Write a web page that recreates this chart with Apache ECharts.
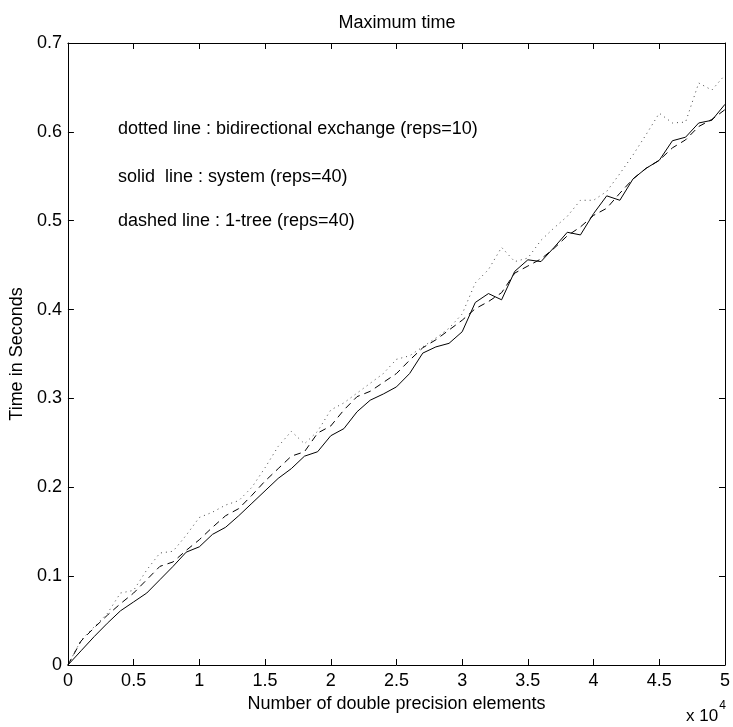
<!DOCTYPE html>
<html>
<head>
<meta charset="utf-8">
<title>Maximum time</title>
<script src="https://cdn.jsdelivr.net/npm/echarts@6/dist/echarts.min.js"></script>
<style>
  html, body { margin: 0; padding: 0; background: #fff; }
  #chart { width: 733px; height: 727px; }
</style>
</head>
<body>
<div id="chart"></div>
<script>
// number of elements, in units of 10^4
var elements = [0, 0.1, 0.2, 0.3, 0.4, 0.5, 0.6, 0.7, 0.8, 0.9,
  1.0, 1.1, 1.2, 1.3, 1.4, 1.5, 1.6, 1.7, 1.8, 1.9,
  2.0, 2.1, 2.2, 2.3, 2.4, 2.5, 2.6, 2.7, 2.8, 2.9,
  3.0, 3.1, 3.2, 3.3, 3.4, 3.5, 3.6, 3.7, 3.8, 3.9,
  4.0, 4.1, 4.2, 4.3, 4.4, 4.5, 4.6, 4.7, 4.8, 4.9, 5.0];

// bidirectional exchange (reps=10)
var exchangeTimes = [0, 0.028, 0.043, 0.058, 0.081, 0.084, 0.107, 0.126, 0.128, 0.146,
  0.166, 0.172, 0.180, 0.185, 0.200, 0.222, 0.246, 0.263, 0.249, 0.263,
  0.287, 0.295, 0.306, 0.317, 0.328, 0.344, 0.348, 0.358, 0.368, 0.379,
  0.395, 0.430, 0.445, 0.470, 0.454, 0.458, 0.478, 0.492, 0.505, 0.523,
  0.523, 0.533, 0.553, 0.574, 0.597, 0.621, 0.610, 0.611, 0.655, 0.647, 0.664];

// system (reps=40)
var systemTimes = [0, 0.016, 0.032, 0.047, 0.061, 0.071, 0.081, 0.096, 0.111, 0.127,
  0.133, 0.147, 0.155, 0.168, 0.182, 0.196, 0.210, 0.221, 0.235, 0.240,
  0.258, 0.266, 0.285, 0.298, 0.305, 0.313, 0.328, 0.351, 0.358, 0.362,
  0.375, 0.408, 0.418, 0.411, 0.443, 0.456, 0.454, 0.470, 0.487, 0.484,
  0.508, 0.528, 0.523, 0.547, 0.559, 0.568, 0.590, 0.594, 0.610, 0.613, 0.631];

// 1-tree (reps=40)
var treeTimes = [0, 0.027, 0.042, 0.056, 0.069, 0.081, 0.096, 0.111, 0.116, 0.129,
  0.141, 0.155, 0.168, 0.176, 0.191, 0.207, 0.221, 0.235, 0.240, 0.261,
  0.269, 0.287, 0.302, 0.308, 0.318, 0.328, 0.343, 0.357, 0.366, 0.377,
  0.388, 0.401, 0.409, 0.419, 0.441, 0.449, 0.457, 0.469, 0.483, 0.493,
  0.506, 0.514, 0.531, 0.547, 0.559, 0.568, 0.582, 0.591, 0.606, 0.614, 0.625];

var notes = [
  'dotted line : bidirectional exchange (reps=10)',
  'solid  line : system (reps=40)',
  'dashed line : 1-tree (reps=40)'
];

function pairs(ys) {
  return elements.map(function (x, i) { return [x, ys[i]]; });
}

var font = 'Liberation Sans, Arial, Helvetica, sans-serif';
var txt = { color: '#000', fontFamily: font, fontSize: 18 };

function frameAxis(extra) {
  var base = {
    type: 'value',
    axisLine: { show: true, onZero: false, lineStyle: { color: '#000', width: 1 } },
    axisTick: { show: true, inside: true, length: 6, lineStyle: { color: '#000' } },
    splitLine: { show: false }
  };
  return Object.assign(base, extra);
}

var chart = echarts.init(document.getElementById('chart'), null, { renderer: 'canvas' });

chart.setOption({
  animation: false,
  backgroundColor: '#fff',
  title: {
    text: 'Maximum time',
    left: 392,
    top: 9,
    textAlign: 'center',
    textStyle: { color: '#000', fontFamily: font, fontSize: 18, fontWeight: 'normal' }
  },
  grid: { left: 59, right: 8, top: 43, bottom: 62, containLabel: false },
  xAxis: [
    frameAxis({
      position: 'bottom', min: 0, max: 5, interval: 0.5,
      name: 'Number of double precision elements',
      nameLocation: 'middle', nameGap: 25,
      nameTextStyle: txt,
      axisLabel: Object.assign({ margin: 7 }, txt)
    }),
    frameAxis({
      position: 'top', min: 0, max: 5, interval: 0.5,
      axisLabel: { show: false }
    })
  ],
  yAxis: [
    frameAxis({
      position: 'left', min: 0, max: 0.7, interval: 0.1,
      name: 'Time in Seconds',
      nameLocation: 'middle', nameGap: 36,
      nameTextStyle: txt,
      axisLabel: Object.assign({ margin: 6 }, txt)
    }),
    frameAxis({
      position: 'right', min: 0, max: 0.7, interval: 0.1,
      axisLabel: { show: false }
    })
  ],
  series: [
    {
      name: 'bidirectional exchange', type: 'line', data: pairs(exchangeTimes),
      showSymbol: false, silent: true,
      lineStyle: { color: '#444', width: 1, type: [1, 4] }
    },
    {
      name: 'system', type: 'line', data: pairs(systemTimes),
      showSymbol: false, silent: true,
      lineStyle: { color: '#000', width: 1, type: 'solid' }
    },
    {
      name: '1-tree', type: 'line', data: pairs(treeTimes),
      showSymbol: false, silent: true,
      lineStyle: { color: '#000', width: 1, type: [7, 5] }
    }
  ],
  graphic: [
    { type: 'text', left: 118, top: 120, style: Object.assign({ text: notes[0] }, txt) },
    { type: 'text', left: 118, top: 168, style: Object.assign({ text: notes[1] }, txt) },
    { type: 'text', left: 118, top: 212, style: Object.assign({ text: notes[2] }, txt) },
    {
      type: 'text', left: 686, top: 700,
      style: {
        text: '{b|x 10}{s|4}',
        rich: {
          b: { color: '#000', fontFamily: font, fontSize: 17, padding: [10, 0, 0, 0] },
          s: { color: '#000', fontFamily: font, fontSize: 12, padding: [0, 0, 10, 1] }
        }
      }
    }
  ]
});
</script>
</body>
</html>
